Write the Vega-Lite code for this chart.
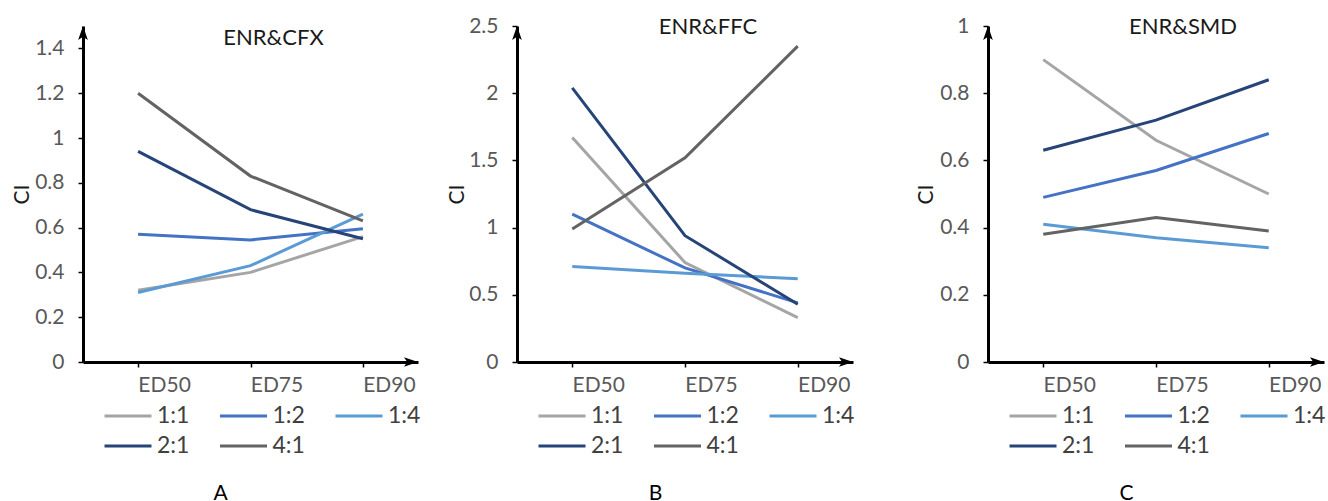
{
  "$schema": "https://vega.github.io/schema/vega-lite/v6.json",
  "padding": {"left": 11, "top": 15, "right": 0, "bottom": 0},
  "config": {
    "view": {"stroke": null},
    "font": "Lato",
    "axis": {"grid": false, "labelFont": "Lato", "titleFont": "Lato", "domainColor": "black", "domainWidth": 3, "tickColor": "black", "tickWidth": 1.5, "tickSize": 5, "labelColor": "#595959", "labelFontSize": 21, "titleFontSize": 21, "titleFontWeight": "normal", "titleColor": "#1a1a1a"},
    "legend": {"orient": "none", "legendX": 20, "legendY": 375, "direction": "horizontal", "columns": 3, "symbolType": "stroke", "symbolSize": 2209, "symbolStrokeWidth": 3, "labelFont": "Lato", "labelFontSize": 23, "labelColor": "#404040", "labelOffset": 4, "columnPadding": 28.5, "rowPadding": 0, "clipHeight": 30, "padding": 0, "title": null},
    "title": {"font": "Lato", "fontSize": 22, "fontWeight": "normal", "color": "#1a1a1a", "frame": "group", "anchor": "middle", "baseline": "middle", "offset": -24}
  },
  "datasets": {
    "cfx": [
      {"dose": "ED50", "ratio": "1:1", "CI": 0.32}, {"dose": "ED75", "ratio": "1:1", "CI": 0.40}, {"dose": "ED90", "ratio": "1:1", "CI": 0.56},
      {"dose": "ED50", "ratio": "1:2", "CI": 0.57}, {"dose": "ED75", "ratio": "1:2", "CI": 0.545}, {"dose": "ED90", "ratio": "1:2", "CI": 0.595},
      {"dose": "ED50", "ratio": "1:4", "CI": 0.31}, {"dose": "ED75", "ratio": "1:4", "CI": 0.43}, {"dose": "ED90", "ratio": "1:4", "CI": 0.66},
      {"dose": "ED50", "ratio": "2:1", "CI": 0.94}, {"dose": "ED75", "ratio": "2:1", "CI": 0.68}, {"dose": "ED90", "ratio": "2:1", "CI": 0.55},
      {"dose": "ED50", "ratio": "4:1", "CI": 1.20}, {"dose": "ED75", "ratio": "4:1", "CI": 0.83}, {"dose": "ED90", "ratio": "4:1", "CI": 0.63}
    ],
    "ffc": [
      {"dose": "ED50", "ratio": "1:1", "CI": 1.67}, {"dose": "ED75", "ratio": "1:1", "CI": 0.74}, {"dose": "ED90", "ratio": "1:1", "CI": 0.33},
      {"dose": "ED50", "ratio": "1:2", "CI": 1.10}, {"dose": "ED75", "ratio": "1:2", "CI": 0.70}, {"dose": "ED90", "ratio": "1:2", "CI": 0.44},
      {"dose": "ED50", "ratio": "1:4", "CI": 0.71}, {"dose": "ED75", "ratio": "1:4", "CI": 0.66}, {"dose": "ED90", "ratio": "1:4", "CI": 0.62},
      {"dose": "ED50", "ratio": "2:1", "CI": 2.04}, {"dose": "ED75", "ratio": "2:1", "CI": 0.94}, {"dose": "ED90", "ratio": "2:1", "CI": 0.43},
      {"dose": "ED50", "ratio": "4:1", "CI": 0.99}, {"dose": "ED75", "ratio": "4:1", "CI": 1.52}, {"dose": "ED90", "ratio": "4:1", "CI": 2.35}
    ],
    "smd": [
      {"dose": "ED50", "ratio": "1:1", "CI": 0.90}, {"dose": "ED75", "ratio": "1:1", "CI": 0.66}, {"dose": "ED90", "ratio": "1:1", "CI": 0.50},
      {"dose": "ED50", "ratio": "1:2", "CI": 0.49}, {"dose": "ED75", "ratio": "1:2", "CI": 0.57}, {"dose": "ED90", "ratio": "1:2", "CI": 0.68},
      {"dose": "ED50", "ratio": "1:4", "CI": 0.41}, {"dose": "ED75", "ratio": "1:4", "CI": 0.37}, {"dose": "ED90", "ratio": "1:4", "CI": 0.34},
      {"dose": "ED50", "ratio": "2:1", "CI": 0.63}, {"dose": "ED75", "ratio": "2:1", "CI": 0.72}, {"dose": "ED90", "ratio": "2:1", "CI": 0.84},
      {"dose": "ED50", "ratio": "4:1", "CI": 0.38}, {"dose": "ED75", "ratio": "4:1", "CI": 0.43}, {"dose": "ED90", "ratio": "4:1", "CI": 0.39}
    ]
  },
  "resolve": {"scale": {"color": "independent"}, "legend": {"color": "independent"}},
  "bounds": "flush",
  "spacing": 0,
  "hconcat": [
    {
      "width": 335, "height": 336,
      "title": {"text": "ENR&CFX", "dx": 23},
      "layer": [
        {
          "data": {"name": "cfx"},
          "mark": {"type": "line", "strokeWidth": 3},
          "encoding": {
            "x": {"field": "dose", "type": "ordinal", "sort": ["ED50", "ED75", "ED90"], "scale": {"type": "point", "padding": 0.49},
                  "axis": {"title": "A", "titleX": 137, "titleY": 131, "titleBaseline": "middle", "titleFontSize": 21, "titleColor": "black", "labelAngle": 0, "labelOffset": 26, "labelPadding": 7}},
            "y": {"field": "CI", "type": "quantitative", "scale": {"domain": [0, 1.5], "nice": false},
                  "axis": {"title": "CI", "titleX": -61, "titleBaseline": "middle", "values": [0, 0.2, 0.4, 0.6, 0.8, 1, 1.2, 1.4], "format": "~g", "labelPadding": 14, "labelOverlap": false}},
            "color": {"field": "ratio", "type": "nominal", "scale": {"domain": ["1:1", "1:2", "1:4", "2:1", "4:1"], "range": ["#A5A5A5", "#4472C4", "#5B9BD5", "#264478", "#636363"]}}
          }
        },
        {
          "data": {"values": [{}]},
          "mark": {"type": "point", "shape": "M0,0L0.45,1.3L0,1L-0.45,1.3Z", "filled": true, "color": "black", "opacity": 1, "size": 465},
          "encoding": {"x": {"datum": 0, "type": "quantitative", "scale": {"domain": [0, 1]}, "axis": null}, "y": {"datum": 1.5, "type": "quantitative"}}
        },
        {
          "data": {"values": [{}]},
          "mark": {"type": "point", "shape": "M0,0L0.45,1.3L0,1L-0.45,1.3Z", "filled": true, "color": "black", "opacity": 1, "size": 465, "angle": 90},
          "encoding": {"x": {"datum": 1, "type": "quantitative", "scale": {"domain": [0, 1]}, "axis": null}, "y": {"datum": 0, "type": "quantitative"}}
        }
      ],
      "resolve": {"scale": {"x": "independent"}}
    },
    {"width": 99, "height": 336, "data": {"values": []}, "mark": "text", "encoding": {}},
    {
      "width": 336, "height": 336,
      "title": {"text": "ENR&FFC", "dx": 23},
      "layer": [
        {
          "data": {"name": "ffc"},
          "mark": {"type": "line", "strokeWidth": 3},
          "encoding": {
            "x": {"field": "dose", "type": "ordinal", "sort": ["ED50", "ED75", "ED90"], "scale": {"type": "point", "padding": 0.49},
                  "axis": {"title": "B", "titleX": 138, "titleY": 131, "titleBaseline": "middle", "titleFontSize": 21, "titleColor": "black", "labelAngle": 0, "labelOffset": 26, "labelPadding": 7}},
            "y": {"field": "CI", "type": "quantitative", "scale": {"domain": [0, 2.5], "nice": false},
                  "axis": {"title": "CI", "titleX": -60, "titleBaseline": "middle", "values": [0, 0.5, 1, 1.5, 2, 2.5], "format": "~g", "labelPadding": 14, "labelOverlap": false}},
            "color": {"field": "ratio", "type": "nominal", "scale": {"domain": ["1:1", "1:2", "1:4", "2:1", "4:1"], "range": ["#A5A5A5", "#4472C4", "#5B9BD5", "#264478", "#636363"]}}
          }
        },
        {
          "data": {"values": [{}]},
          "mark": {"type": "point", "shape": "M0,0L0.45,1.3L0,1L-0.45,1.3Z", "filled": true, "color": "black", "opacity": 1, "size": 465},
          "encoding": {"x": {"datum": 0, "type": "quantitative", "scale": {"domain": [0, 1]}, "axis": null}, "y": {"datum": 2.5, "type": "quantitative"}}
        },
        {
          "data": {"values": [{}]},
          "mark": {"type": "point", "shape": "M0,0L0.45,1.3L0,1L-0.45,1.3Z", "filled": true, "color": "black", "opacity": 1, "size": 465, "angle": 90},
          "encoding": {"x": {"datum": 1, "type": "quantitative", "scale": {"domain": [0, 1]}, "axis": null}, "y": {"datum": 0, "type": "quantitative"}}
        }
      ],
      "resolve": {"scale": {"x": "independent"}}
    },
    {"width": 135, "height": 336, "data": {"values": []}, "mark": "text", "encoding": {}},
    {
      "width": 336, "height": 336,
      "title": {"text": "ENR&SMD", "dx": 27},
      "layer": [
        {
          "data": {"name": "smd"},
          "mark": {"type": "line", "strokeWidth": 3},
          "encoding": {
            "x": {"field": "dose", "type": "ordinal", "sort": ["ED50", "ED75", "ED90"], "scale": {"type": "point", "padding": 0.49},
                  "axis": {"title": "C", "titleX": 138, "titleY": 131, "titleBaseline": "middle", "titleFontSize": 21, "titleColor": "black", "labelAngle": 0, "labelOffset": 26, "labelPadding": 7}},
            "y": {"field": "CI", "type": "quantitative", "scale": {"domain": [0, 1], "nice": false},
                  "axis": {"title": "CI", "titleX": -62, "titleBaseline": "middle", "values": [0, 0.2, 0.4, 0.6, 0.8, 1], "format": "~g", "labelPadding": 14, "labelOverlap": false}},
            "color": {"field": "ratio", "type": "nominal", "scale": {"domain": ["1:1", "1:2", "1:4", "2:1", "4:1"], "range": ["#A5A5A5", "#4472C4", "#5B9BD5", "#264478", "#636363"]}}
          }
        },
        {
          "data": {"values": [{}]},
          "mark": {"type": "point", "shape": "M0,0L0.45,1.3L0,1L-0.45,1.3Z", "filled": true, "color": "black", "opacity": 1, "size": 465},
          "encoding": {"x": {"datum": 0, "type": "quantitative", "scale": {"domain": [0, 1]}, "axis": null}, "y": {"datum": 1, "type": "quantitative"}}
        },
        {
          "data": {"values": [{}]},
          "mark": {"type": "point", "shape": "M0,0L0.45,1.3L0,1L-0.45,1.3Z", "filled": true, "color": "black", "opacity": 1, "size": 465, "angle": 90},
          "encoding": {"x": {"datum": 1, "type": "quantitative", "scale": {"domain": [0, 1]}, "axis": null}, "y": {"datum": 0, "type": "quantitative"}}
        }
      ],
      "resolve": {"scale": {"x": "independent"}}
    }
  ]
}
